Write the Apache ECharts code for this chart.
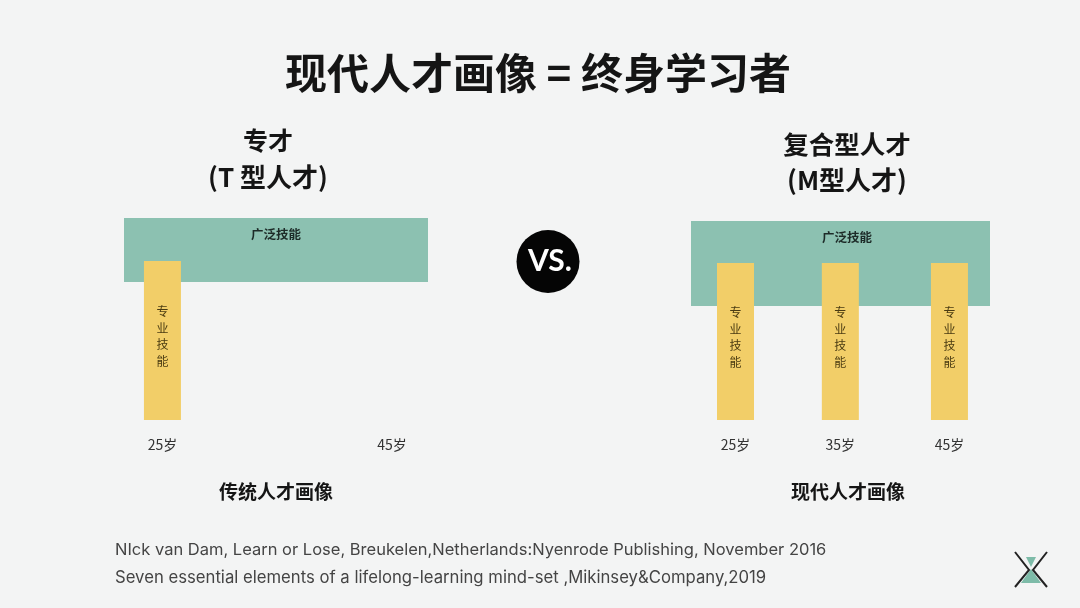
<!DOCTYPE html>
<html>
<head>
<meta charset="utf-8">
<style>
html,body{margin:0;padding:0;background:#f3f4f4;}
#main{width:1080px;height:608px;}
</style>
<script src="https://cdn.jsdelivr.net/npm/echarts@6/dist/echarts.min.js"></script>
</head>
<body>
<div id="main"></div>
<script>
var CN = '"Noto Sans CJK SC"';

// 左图 T型
var tAges = [25, 45];
var tDeepAges = [25];
var tDeepValues = [78.7];
var tBroad = [[21.65, 48.14, 68.3, 100]];
// 右图 M型 (35岁那根柱子在原图略偏左)
var mAges = [25, 34.8, 45];
var mDeepValues = [78.9, 78.9, 78.9];
var mBroad = [[20.84, 48.79, 57.3, 100]];

var broadName = '广泛技能';
var deepName = '专\n业\n技\n能';

function pairs(xs, ys){
	return xs.map(function(x, i){
		return [x, ys[i]];
	});
}

function xAxis(idx, min, max, ticks){
	return {
		type: 'value',
		gridIndex: idx,
		min: min,
		max: max,
		axisLine: {show: false},
		axisTick: {show: false},
		splitLine: {show: false},
		axisLabel: {
			customValues: ticks,
			margin: 18,
			fontFamily: CN,
			fontSize: 14,
			color: '#333',
			formatter: function(v){
				return Math.round(v) + '岁';
			}
		}
	};
}

function yAxis(idx){
	return {type: 'value', gridIndex: idx, min: 0, max: 100, show: false};
}

function broadSeries(idx, data, labelDx){
	return {
		type: 'custom',
		xAxisIndex: idx,
		yAxisIndex: idx,
		z: 1,
		silent: true,
		clip: false,
		encode: {x: [0, 1], y: [2, 3]},
		renderItem: function(params, api){
			var p0 = api.coord([api.value(0), api.value(3)]);
			var p1 = api.coord([api.value(1), api.value(2)]);
			return {
				type: 'group',
				children: [{
					type: 'rect',
					shape: {x: p0[0], y: p0[1], width: p1[0] - p0[0], height: p1[1] - p0[1]},
					style: {fill: '#8cc1b1'}
				},{
					type: 'text',
					style: {
						x: (p0[0] + p1[0]) / 2 + labelDx,
						y: p0[1] + 16,
						text: broadName,
						fill: '#1d2b28',
						font: 'bold 12.5px ' + CN,
						textAlign: 'center',
						textVerticalAlign: 'middle'
					}
				}]
			};
		},
		data: data
	};
}

function deepSeries(idx, data){
	return {
		type: 'bar',
		xAxisIndex: idx,
		yAxisIndex: idx,
		z: 2,
		barWidth: 37,
		silent: true,
		itemStyle: {color: '#f2ce68'},
		label: {
			show: true,
			position: 'inside',
			offset: [0, -4],
			formatter: deepName,
			fontFamily: CN,
			fontSize: 12,
			lineHeight: 16.4,
			color: '#4a3b12'
		},
		data: data
	};
}

function head(text, x, y, size){
	return {
		text: text,
		left: x,
		top: y,
		textAlign: 'center',
		textVerticalAlign: 'middle',
		padding: 0,
		textStyle: {fontFamily: CN, fontSize: size, fontWeight: 'bold', color: '#151515'}
	};
}

function cite(text, y, size){
	return {
		type: 'text',
		left: 115,
		top: y,
		style: {text: text, fill: '#444', font: size + 'px Inter, sans-serif'}
	};
}

var chart = echarts.init(document.getElementById('main'));
chart.setOption({
	backgroundColor: '#f3f4f4',
	animation: false,
	title: [
		head('现代人才画像 = 终身学习者', 538, 73, 42),
		head('专才', 268, 140, 25),
		head('(T 型人才)', 268, 177, 26),
		head('复合型人才', 847, 144, 25.5),
		head('(M型人才)', 847, 180, 26),
		head('传统人才画像', 276, 492, 19),
		head('现代人才画像', 848, 492, 19)
	],
	grid: [
		{left: 124, top: 218, width: 304, height: 202},
		{left: 691, top: 221, width: 299, height: 199}
	],
	xAxis: [
		xAxis(0, 21.65, 48.14, tAges),
		xAxis(1, 20.84, 48.79, mAges)
	],
	yAxis: [yAxis(0), yAxis(1)],
	series: [
		broadSeries(0, tBroad, 0),
		deepSeries(0, pairs(tDeepAges, tDeepValues)),
		broadSeries(1, mBroad, 6.5),
		deepSeries(1, pairs(mAges, mDeepValues))
	],
	graphic: [
		{type: 'circle', shape: {cx: 548, cy: 261.5, r: 31.5}, style: {fill: '#050505'}},
		{
			type: 'text',
			style: {
				x: 550, y: 261, text: 'VS.', fill: '#fff',
				font: 'bold 30px Lato, sans-serif',
				textAlign: 'center', textVerticalAlign: 'middle'
			}
		},
		cite('NIck van Dam, Learn or Lose, Breukelen,Netherlands:Nyenrode Publishing, November 2016', 542, 16.5),
		cite('Seven essential elements of a lifelong-learning mind-set ,Mikinsey&Company,2019', 569, 16.7),
		// 右下角沙漏
		{type: 'polygon', shape: {points: [[1026, 557], [1036, 557], [1031, 567]]}, style: {fill: '#7dbba8'}},
		{type: 'polygon', shape: {points: [[1031, 569], [1041, 583], [1021, 583]]}, style: {fill: '#7dbba8'}},
		{type: 'polyline', shape: {points: [[1015, 552], [1029, 570], [1015, 587]]}, style: {stroke: '#222', lineWidth: 2, fill: 'none'}},
		{type: 'polyline', shape: {points: [[1047, 552], [1033, 570], [1047, 587]]}, style: {stroke: '#222', lineWidth: 2, fill: 'none'}}
	]
});
</script>
</body>
</html>
